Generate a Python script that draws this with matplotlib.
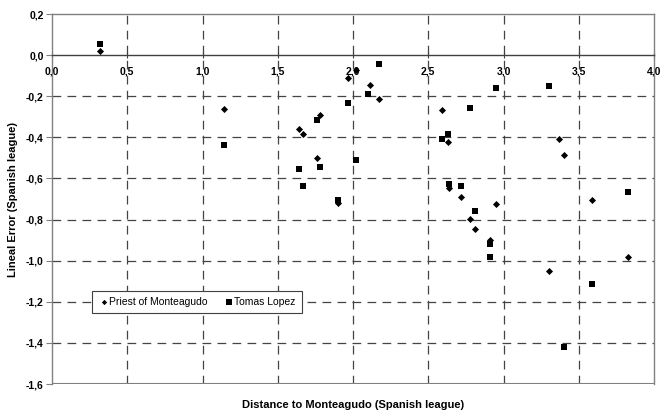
import matplotlib
matplotlib.use("Agg")
import matplotlib.pyplot as plt
from matplotlib.ticker import FuncFormatter

# Priest of Monteagudo (diamonds)
priest_x = [0.32, 1.14, 1.64, 1.67, 1.78, 1.76, 1.90, 1.97, 2.02, 2.11, 2.17,
            2.59, 2.63, 2.64, 2.72, 2.78, 2.81, 2.91, 2.95, 3.30, 3.37, 3.40,
            3.59, 3.83]
priest_y = [0.02, -0.26, -0.36, -0.385, -0.29, -0.50, -0.72, -0.11, -0.07,
            -0.145, -0.215, -0.265, -0.425, -0.645, -0.69, -0.795, -0.845,
            -0.90, -0.725, -1.05, -0.41, -0.485, -0.705, -0.98]

# Tomas Lopez (squares)
tomas_x = [0.32, 1.14, 1.64, 1.67, 1.76, 1.78, 1.90, 1.97, 2.02, 2.10, 2.17,
           2.59, 2.63, 2.64, 2.72, 2.78, 2.81, 2.91, 2.91, 2.95, 3.30, 3.40,
           3.59, 3.83]
tomas_y = [0.055, -0.435, -0.555, -0.635, -0.315, -0.545, -0.705, -0.235,
           -0.51, -0.19, -0.045, -0.41, -0.385, -0.625, -0.635, -0.255, -0.76,
           -0.92, -0.98, -0.16, -0.15, -1.42, -1.115, -0.665]

x_ticks = [0.0, 0.5, 1.0, 1.5, 2.0, 2.5, 3.0, 3.5, 4.0]
y_ticks = [0.2, 0.0, -0.2, -0.4, -0.6, -0.8, -1.0, -1.2, -1.4, -1.6]

plt.rcParams["font.family"] = ["Liberation Sans", "DejaVu Sans"]

fig = plt.figure(figsize=(6.61, 4.13), dpi=100)
ax = fig.add_axes([0.0787, 0.0702, 0.9107, 0.8959])

ax.set_xlim(0, 4.0)
ax.set_ylim(-1.6, 0.2)

# dashed grid
for xv in x_ticks[1:-1]:
    ax.axvline(xv, color="#444444", lw=0.9, dashes=(7, 5), zorder=1)
for yv in y_ticks[2:-1]:
    ax.axhline(yv, color="#444444", lw=0.9, dashes=(7, 5), zorder=1)

# frame
for side in ["top", "right", "left"]:
    ax.spines[side].set_color("#808080")
    ax.spines[side].set_linewidth(1.0)
ax.spines["bottom"].set_position(("data", 0))
ax.spines["bottom"].set_color("#404040")
ax.spines["bottom"].set_linewidth(1.0)
ax.axhline(-1.6, color="#808080", lw=1.5, zorder=2)

ax.scatter(priest_x, priest_y, marker="D", s=13, color="black", zorder=3,
           label="Priest of Monteagudo", linewidths=0)
ax.scatter(tomas_x, tomas_y, marker="s", s=24, color="black", zorder=3,
           label="Tomas Lopez", linewidths=0)

fmt = FuncFormatter(lambda v, p: f"{v:.1f}".replace(".", ","))
ax.set_xticks(x_ticks)
ax.set_yticks(y_ticks)
ax.xaxis.set_major_formatter(fmt)
ax.yaxis.set_major_formatter(fmt)
ax.tick_params(axis="x", direction="inout", length=5, color="#404040",
               labelsize=7.5, pad=6)
ax.tick_params(axis="y", direction="out", length=4, color="#808080",
               labelsize=7.5, pad=2)
for lab in ax.get_xticklabels() + ax.get_yticklabels():
    lab.set_fontweight("bold")

ax.set_xlabel("Distance to Monteagudo (Spanish league)", fontsize=8,
              fontweight="bold", va="center")
ax.xaxis.set_label_coords(0.5, -0.057)
ax.set_ylabel("Lineal Error (Spanish league)", fontsize=8, fontweight="bold")
ax.yaxis.set_label_coords(-0.057, 0.5)

leg = ax.legend(loc="center left", bbox_to_anchor=(0.058, 0.222), ncol=2,
                fontsize=7.5, frameon=True, fancybox=False, handletextpad=0.0,
                columnspacing=1.6, borderpad=0.6, handlelength=1.0,
                markerscale=0.75)
leg.get_frame().set_edgecolor("#404040")
leg.get_frame().set_linewidth(0.8)
leg.get_frame().set_alpha(1)

fig.savefig("out.png", dpi=100)
